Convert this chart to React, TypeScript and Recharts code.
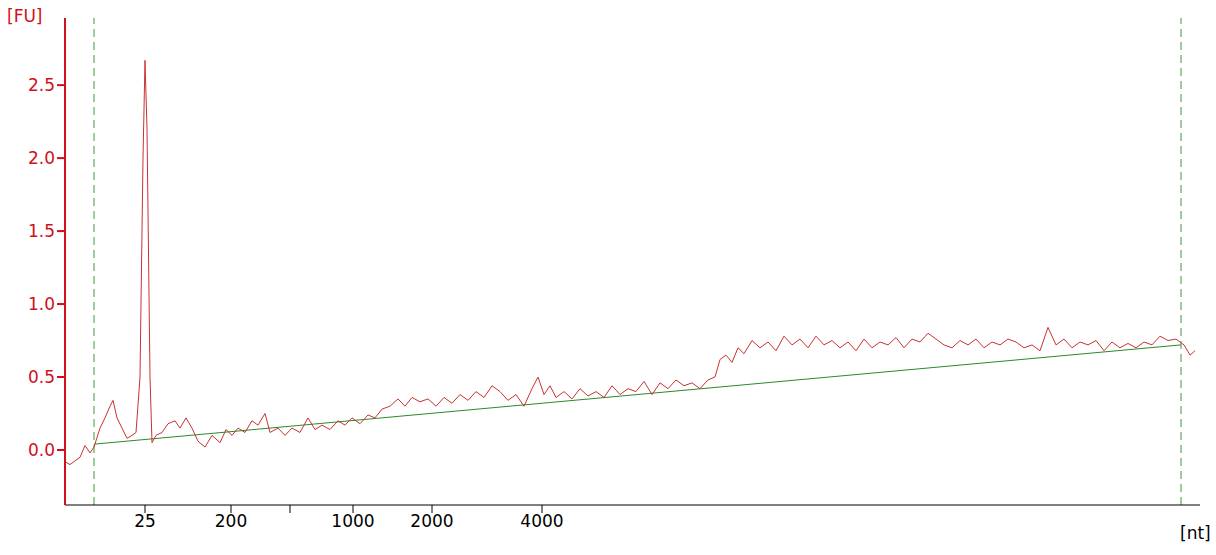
import { Line, LineChart, ReferenceLine, XAxis, YAxis } from "recharts";

// x positions are in run units (scaled so the axis spans 65..1200)
const traceX = [65,70,80,85,90,94,100,105,110,113,117,122,127,132,136,140,143,145,147,150,152,156,162,168,175,180,186,192,198,205,212,220,226,232,238,245,252,258,265,270,278,285,292,300,308,315,322,330,338,345,352,360,368,375,382,390,398,405,412,420,428,436,444,452,460,468,476,484,492,500,508,516,524,532,538,544,550,556,564,572,580,588,596,604,612,620,628,636,644,652,660,668,676,684,692,700,708,715,720,726,732,738,744,752,760,768,776,784,792,800,808,816,824,832,840,848,856,864,872,880,888,896,904,912,920,928,936,944,952,960,968,976,984,992,1000,1008,1016,1024,1032,1040,1048,1056,1064,1072,1080,1088,1096,1104,1112,1120,1128,1136,1144,1152,1160,1168,1176,1184,1190,1195];
const traceFU = [-0.08,-0.1,-0.05,0.03,-0.02,0.02,0.15,0.22,0.3,0.34,0.22,0.15,0.08,0.1,0.12,0.5,2.0,2.67,2.2,0.5,0.05,0.1,0.12,0.18,0.2,0.15,0.22,0.15,0.06,0.02,0.1,0.05,0.14,0.1,0.15,0.12,0.2,0.17,0.25,0.12,0.15,0.1,0.15,0.12,0.22,0.14,0.17,0.14,0.2,0.17,0.22,0.18,0.24,0.22,0.28,0.3,0.35,0.3,0.36,0.33,0.35,0.3,0.36,0.32,0.38,0.34,0.4,0.36,0.44,0.4,0.34,0.38,0.3,0.42,0.5,0.38,0.44,0.36,0.4,0.35,0.42,0.37,0.4,0.36,0.44,0.38,0.42,0.4,0.47,0.38,0.46,0.42,0.48,0.44,0.46,0.42,0.48,0.5,0.62,0.65,0.6,0.7,0.66,0.75,0.7,0.74,0.68,0.78,0.72,0.76,0.7,0.78,0.72,0.75,0.7,0.74,0.68,0.76,0.7,0.74,0.72,0.77,0.7,0.76,0.74,0.8,0.76,0.72,0.7,0.75,0.72,0.76,0.7,0.74,0.72,0.76,0.74,0.7,0.72,0.68,0.84,0.72,0.76,0.7,0.74,0.72,0.75,0.68,0.74,0.7,0.73,0.7,0.74,0.72,0.78,0.75,0.76,0.72,0.65,0.68];

const baselineX = [94, 1181];
const baselineFU = [0.04, 0.72];

const sizeTickX = [145, 231, 290, 353, 432, 542];
const sizeTickLabels = ["25", "200", "", "1000", "2000", "4000"];
const fuTicks = [0, 0.5, 1, 1.5, 2, 2.5];
const markerX = [94, 1181];

const trace = traceX.map((x, i) => ({ x, fu: traceFU[i] }));
const baseline = baselineX.map((x, i) => ({ x, fu: baselineFU[i] }));

const RED = "#d0101a";
const FONT = "Verdana, 'DejaVu Sans', sans-serif";

export default function App() {
  return (
    <div style={{ position: "absolute", left: 0, top: 0, width: 1216, height: 555, background: "#fff", fontFamily: FONT }}>
      <LineChart width={1216} height={555} margin={{ top: 18, right: 16, left: 0, bottom: 20 }}>
        <XAxis
          dataKey="x"
          type="number"
          domain={[65, 1200]}
          ticks={sizeTickX}
          tickFormatter={(v) => sizeTickLabels[sizeTickX.indexOf(v)] ?? ""}
          height={30}
          stroke="#000"
          tick={{ fill: "#000", fontSize: 17, fontFamily: FONT }}
          tickSize={8}
          allowDataOverflow
        />
        <YAxis
          type="number"
          domain={[-0.377, 2.96]}
          ticks={fuTicks}
          tickFormatter={(v) => v.toFixed(1)}
          width={65}
          stroke={RED}
          strokeWidth={2}
          tick={{ fill: RED, fontSize: 17, fontFamily: FONT }}
          tickSize={8}
          allowDataOverflow
        />
        {markerX.map((x) => (
          <ReferenceLine key={x} x={x} stroke="#3a9a3a" strokeDasharray="8 5" />
        ))}
        <Line data={baseline} dataKey="fu" stroke="#2a8a2a" strokeWidth={1} dot={false} isAnimationActive={false} />
        <Line data={trace} dataKey="fu" stroke="#c83232" strokeWidth={1} dot={false} isAnimationActive={false} />
      </LineChart>
      <div style={{ position: "absolute", left: 7, top: 6, color: RED, fontSize: 17 }}>[FU]</div>
      <div style={{ position: "absolute", left: 1180, top: 523, color: "#000", fontSize: 17 }}>[nt]</div>
    </div>
  );
}
